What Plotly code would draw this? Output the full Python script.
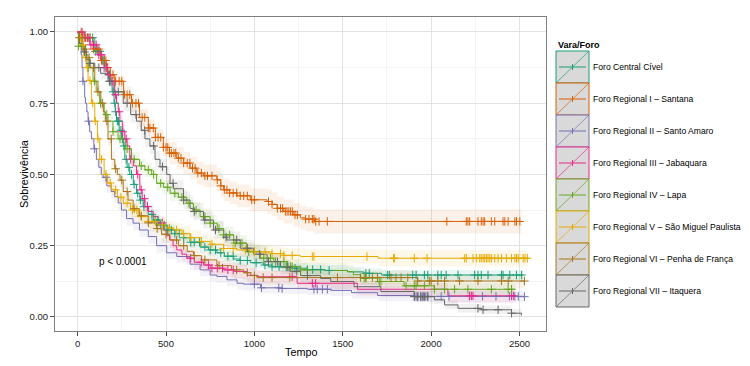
import numpy as np
import plotly.graph_objects as go

GROUPS = ["Foro Central Cível", "Foro Regional I – Santana", "Foro Regional II – Santo Amaro",
          "Foro Regional III – Jabaquara", "Foro Regional IV – Lapa",
          "Foro Regional V – São Miguel Paulista", "Foro Regional VI – Penha de França",
          "Foro Regional VII – Itaquera"]
COLORS = ["#1B9E77", "#D95F02", "#7570B3", "#E7298A", "#66A61E", "#E6AB02", "#A6761D", "#666666"]

# ---- survival step points (time, survival) ----
T_CENTRAL = [0, 40, 97, 130, 153, 170, 182, 195, 206, 213, 220, 235, 248, 258, 267, 280, 295, 315, 333, 352, 371, 400, 428, 465, 504, 550, 599, 636, 693, 740, 788, 830, 883, 920, 977, 1053, 1100, 1205, 1300, 1400, 1527, 1620, 1720, 2520]
S_CENTRAL = [1.0, 0.98, 0.932, 0.90, 0.875, 0.85, 0.827, 0.79, 0.75, 0.72, 0.687, 0.655, 0.625, 0.60, 0.553, 0.525, 0.50, 0.465, 0.434, 0.41, 0.387, 0.36, 0.34, 0.322, 0.305, 0.292, 0.278, 0.262, 0.245, 0.235, 0.225, 0.213, 0.203, 0.198, 0.19, 0.182, 0.176, 0.171, 0.166, 0.163, 0.158, 0.153, 0.147, 0.147]

T_SANTANA = [0, 30, 87, 130, 163, 185, 210, 260, 305, 350, 400, 440, 485, 520, 561, 600, 636, 674, 712, 788, 810, 826, 860, 902, 977, 1072, 1100, 1129, 1166, 1223, 1260, 1290, 1340, 2511]
S_SANTANA = [1.0, 0.98, 0.94, 0.90, 0.875, 0.85, 0.827, 0.78, 0.75, 0.70, 0.663, 0.63, 0.595, 0.575, 0.557, 0.54, 0.522, 0.505, 0.495, 0.481, 0.46, 0.446, 0.435, 0.425, 0.411, 0.405, 0.395, 0.381, 0.37, 0.358, 0.348, 0.343, 0.335, 0.335]

T_AMARO = [0, 10, 20, 25, 30, 40, 44, 52, 59, 68, 78, 92, 106, 120, 134, 144, 165, 190, 210, 230, 248, 277, 314, 350, 400, 447, 504, 561, 636, 693, 750, 788, 845, 902, 939, 1034, 1148, 1300, 1432, 1550, 1697, 1905, 2528]
S_AMARO = [1.0, 0.96, 0.92, 0.875, 0.827, 0.77, 0.75, 0.72, 0.687, 0.65, 0.625, 0.59, 0.553, 0.525, 0.50, 0.49, 0.46, 0.44, 0.422, 0.40, 0.375, 0.345, 0.329, 0.305, 0.282, 0.25, 0.225, 0.212, 0.185, 0.165, 0.147, 0.142, 0.13, 0.118, 0.115, 0.102, 0.10, 0.097, 0.093, 0.085, 0.075, 0.072, 0.071]

T_JABAQ = [0, 30, 68, 110, 150, 170, 188, 205, 220, 230, 239, 255, 267, 280, 295, 315, 333, 352, 365, 381, 400, 428, 455, 485, 505, 523, 540, 561, 590, 617, 660, 712, 750, 826, 883, 960, 1015, 1242, 1583, 2095, 2473]
S_JABAQ = [1.0, 0.98, 0.955, 0.92, 0.875, 0.85, 0.827, 0.78, 0.75, 0.72, 0.687, 0.65, 0.625, 0.60, 0.553, 0.53, 0.50, 0.446, 0.415, 0.387, 0.37, 0.352, 0.33, 0.305, 0.285, 0.27, 0.25, 0.235, 0.22, 0.206, 0.192, 0.182, 0.171, 0.165, 0.159, 0.146, 0.141, 0.118, 0.097, 0.074, 0.074]

T_LAPA = [0, 5, 40, 59, 87, 105, 125, 150, 172, 200, 229, 270, 305, 350, 381, 419, 447, 485, 523, 570, 617, 655, 693, 750, 790, 826, 883, 958, 1034, 1110, 1186, 1261, 1400, 1527, 1560, 1602, 1697, 1847, 2017, 2474]
S_LAPA = [1.0, 0.95, 0.92, 0.875, 0.827, 0.79, 0.75, 0.71, 0.687, 0.65, 0.625, 0.59, 0.553, 0.53, 0.516, 0.50, 0.469, 0.455, 0.434, 0.42, 0.399, 0.375, 0.352, 0.329, 0.31, 0.288, 0.259, 0.229, 0.206, 0.194, 0.177, 0.165, 0.163, 0.159, 0.148, 0.136, 0.124, 0.109, 0.097, 0.095]

T_SMP = [0, 10, 21, 35, 49, 59, 78, 97, 112, 125, 150, 170, 191, 225, 258, 300, 343, 400, 447, 500, 542, 590, 636, 700, 750, 826, 900, 996, 1100, 1167, 1260, 1700, 2545]
S_SMP = [1.0, 0.98, 0.955, 0.91, 0.875, 0.83, 0.75, 0.687, 0.625, 0.553, 0.50, 0.47, 0.446, 0.42, 0.399, 0.375, 0.352, 0.335, 0.323, 0.312, 0.305, 0.292, 0.278, 0.265, 0.255, 0.24, 0.235, 0.228, 0.222, 0.216, 0.212, 0.206, 0.206]

T_PENHA = [0, 10, 30, 50, 68, 97, 115, 131, 145, 157, 172, 191, 210, 225, 240, 258, 285, 314, 350, 400, 447, 475, 520, 570, 620, 655, 700, 788, 870, 939, 980, 1015, 1924, 2528]
S_PENHA = [1.0, 0.98, 0.94, 0.91, 0.875, 0.827, 0.79, 0.75, 0.72, 0.687, 0.625, 0.553, 0.52, 0.50, 0.48, 0.44, 0.41, 0.38, 0.355, 0.33, 0.31, 0.29, 0.27, 0.25, 0.23, 0.215, 0.20, 0.18, 0.165, 0.155, 0.145, 0.138, 0.126, 0.126]

T_ITAQ = [0, 10, 30, 49, 70, 97, 130, 172, 210, 258, 300, 333, 360, 381, 409, 438, 466, 504, 523, 542, 599, 636, 655, 712, 769, 826, 845, 920, 996, 1072, 1148, 1200, 1261, 1375, 1432, 1564, 1716, 1905, 2019, 2076, 2152, 2284, 2455, 2511]
S_ITAQ = [1.0, 0.96, 0.93, 0.903, 0.89, 0.875, 0.855, 0.827, 0.79, 0.75, 0.71, 0.687, 0.655, 0.625, 0.60, 0.553, 0.527, 0.50, 0.469, 0.45, 0.41, 0.381, 0.37, 0.34, 0.305, 0.28, 0.27, 0.241, 0.22, 0.194, 0.175, 0.16, 0.145, 0.135, 0.124, 0.106, 0.089, 0.071, 0.06, 0.042, 0.03, 0.025, 0.013, 0.005]

# ---- censoring times ----
C_CENTRAL = [55, 70, 85, 100, 115, 125, 140, 150, 160, 175, 185, 200, 210, 215, 225, 232, 245, 255, 262, 275, 290, 305, 320, 340, 355, 375, 395, 420, 440, 455, 470, 490, 510, 530, 550, 575, 600, 640, 660, 690, 720, 750, 780, 810, 850, 880, 920, 960, 1010, 1060, 1100, 1140, 1180, 1230, 1300, 1330, 1375, 1423, 1631, 1650, 1754, 1764, 1896, 1915, 1962, 1981, 2038, 2057, 2085, 2152, 2246, 2265, 2284, 2322, 2398, 2407, 2445, 2483, 2512]
C_SANTANA = [20, 40, 55, 70, 90, 105, 120, 135, 150, 160, 170, 185, 200, 215, 235, 250, 265, 280, 295, 310, 330, 345, 365, 380, 400, 409, 428, 440, 455, 470, 485, 500, 510, 520, 530, 545, 555, 570, 585, 600, 620, 635, 650, 665, 680, 700, 720, 735, 760, 790, 810, 830, 845, 860, 880, 900, 920, 940, 960, 985, 1000, 1080, 1100, 1130, 1148, 1160, 1175, 1185, 1195, 1205, 1215, 1230, 1243, 1290, 1309, 1328, 1337, 1347, 1366, 1413, 2089, 2199, 2208, 2218, 2265, 2284, 2294, 2303, 2341, 2360, 2407, 2417, 2436, 2474, 2483, 2502]
C_AMARO = [30, 62, 95, 160, 1000, 1040, 1138, 1157, 1337, 1356, 1385, 1413, 1905, 1915, 1925, 1940, 1955, 1970, 1981, 2057, 2101, 2216, 2291, 2367, 2443, 2474, 2493, 2528]
C_JABAQ = [25, 45, 60, 75, 90, 105, 120, 135, 150, 165, 180, 195, 215, 235, 255, 275, 300, 340, 360, 378, 395, 480, 640, 700, 740, 760, 790, 820, 850, 880, 1214, 1328, 1347, 2218, 2228, 2237, 2455, 2465]
C_LAPA = [5, 25, 60, 95, 130, 165, 200, 240, 280, 320, 360, 400, 430, 470, 510, 550, 590, 630, 670, 720, 750, 800, 826, 860, 892, 930, 968, 1000, 1053, 1091, 1119, 1167, 1186, 1205, 1214, 1262, 1300, 1621, 1631, 1707, 1716, 1858, 1905, 1915, 1962, 2019, 2076, 2133, 2208, 2341, 2436, 2455]
C_SMP = [15, 30, 45, 55, 70, 85, 100, 115, 135, 160, 185, 215, 245, 280, 310, 335, 360, 400, 440, 480, 520, 560, 600, 640, 700, 760, 826, 880, 950, 1000, 1060, 1100, 1148, 1167, 1214, 1328, 1337, 1637, 1788, 1792, 1905, 1977, 2190, 2199, 2237, 2256, 2275, 2284, 2294, 2303, 2313, 2322, 2332, 2341, 2360, 2379, 2398, 2426, 2455, 2474, 2483, 2493, 2521, 2531, 2545]
C_PENHA = [10, 25, 45, 65, 90, 115, 140, 165, 190, 215, 250, 280, 320, 360, 400, 450, 500, 560, 600, 660, 720, 800, 900, 960, 1000, 1050, 1100, 1200, 1470, 1600, 1630, 1668, 1697, 1773, 1801, 1830, 1868, 1924, 1990, 2000, 2038, 2076, 2161, 2265, 2398, 2436, 2528]
C_ITAQ = [40, 70, 120, 180, 230, 280, 330, 380, 430, 480, 540, 600, 660, 720, 780, 840, 900, 960, 1030, 1080, 1130, 1190, 1240, 1300, 1905, 1924, 1943, 1953, 1962, 1981, 2265, 2294, 2379, 2455]

# ---- confidence band half-widths at coarse times ----
BAND_T = [0, 100, 250, 500, 1000, 1500, 2000]
HW_CENTRAL = [0.005, 0.015, 0.02, 0.02, 0.018, 0.018, 0.02]
HW_SANTANA = [0.005, 0.02, 0.03, 0.04, 0.042, 0.042, 0.045]
HW_AMARO = [0.01, 0.025, 0.025, 0.022, 0.02, 0.02, 0.02]
HW_JABAQ = [0.005, 0.02, 0.025, 0.025, 0.022, 0.022, 0.025]
HW_LAPA = [0.01, 0.02, 0.025, 0.028, 0.025, 0.022, 0.022]
HW_SMP = [0.01, 0.02, 0.025, 0.025, 0.025, 0.028, 0.03]
HW_PENHA = [0.01, 0.025, 0.03, 0.028, 0.025, 0.025, 0.028]
HW_ITAQ = [0.01, 0.02, 0.028, 0.03, 0.025, 0.02, 0.015]

SERIES = [
    (T_CENTRAL, S_CENTRAL, C_CENTRAL, HW_CENTRAL),
    (T_SANTANA, S_SANTANA, C_SANTANA, HW_SANTANA),
    (T_AMARO, S_AMARO, C_AMARO, HW_AMARO),
    (T_JABAQ, S_JABAQ, C_JABAQ, HW_JABAQ),
    (T_LAPA, S_LAPA, C_LAPA, HW_LAPA),
    (T_SMP, S_SMP, C_SMP, HW_SMP),
    (T_PENHA, S_PENHA, C_PENHA, HW_PENHA),
    (T_ITAQ, S_ITAQ, C_ITAQ, HW_ITAQ),
]
P_TEXT = "p < 0.0001"
P_POS = (112, 0.196)


def rgba(hexc, a):
    h = hexc.lstrip('#')
    return f"rgba({int(h[0:2],16)},{int(h[2:4],16)},{int(h[4:6],16)},{a})"


fig = go.Figure()

# bands
for (t, s, c, hw), col in zip(SERIES, COLORS):
    t = np.array(t, float); s = np.array(s, float)
    idx = np.searchsorted(BAND_T, t, side='right') - 1
    h = np.array(hw)[idx]
    up = np.minimum(s + h, 1.0)
    lo = np.maximum(s - h, 0.0)
    fig.add_trace(go.Scatter(x=t, y=up, mode='lines', line=dict(width=0, shape='hv'),
                             hoverinfo='skip', showlegend=False))
    fig.add_trace(go.Scatter(x=t, y=lo, mode='lines', line=dict(width=0, shape='hv'),
                             fill='tonexty', fillcolor=rgba(col, 0.09),
                             hoverinfo='skip', showlegend=False))

# step lines
for (t, s, c, hw), col, name in zip(SERIES, COLORS, GROUPS):
    fig.add_trace(go.Scatter(x=t, y=s, mode='lines', line=dict(color=col, width=1, shape='hv'),
                             name=name, showlegend=False))

# censor marks
for (t, s, c, hw), col in zip(SERIES, COLORS):
    t = np.array(t, float); s = np.array(s, float)
    ci = np.array(c, float)
    k = np.searchsorted(t, ci, side='right') - 1
    fig.add_trace(go.Scatter(x=ci, y=s[k], mode='markers',
                             marker=dict(symbol='cross-thin', size=6, color=col,
                                         line=dict(width=1, color=col)),
                             hoverinfo='skip', showlegend=False))

fig.add_annotation(x=P_POS[0], y=P_POS[1], text=P_TEXT, showarrow=False, xanchor='left',
                   yanchor='middle', font=dict(size=10, color='#000000'))

# ---- manual legend (pixel layout -> paper coords) ----
L, R, TOP, BOT = 55, 546, 17, 331
def px(x):
    return (x - L) / (R - L)
def py(y):
    return (BOT - y) / (BOT - TOP)

fig.add_annotation(x=px(556), y=py(44.5), xref='paper', yref='paper', text="<b>Vara/Foro</b>",
                   showarrow=False, xanchor='left', yanchor='middle',
                   font=dict(size=9, color='#000000'))
for i, (name, col) in enumerate(zip(GROUPS, COLORS)):
    top = 51 + 32 * i
    fig.add_shape(type='rect', xref='paper', yref='paper', x0=px(556), x1=px(589),
                  y0=py(top + 32), y1=py(top), fillcolor='#d9d9d9',
                  line=dict(color=col, width=1), layer='above')
    fig.add_shape(type='line', xref='paper', yref='paper', x0=px(556.5), y0=py(top + 31.5),
                  x1=px(588.5), y1=py(top + 0.5), line=dict(color=col, width=0.7), layer='above')
    fig.add_shape(type='line', xref='paper', yref='paper', x0=px(559), y0=py(top + 16),
                  x1=px(586), y1=py(top + 16), line=dict(color=col, width=1), layer='above')
    fig.add_shape(type='line', xref='paper', yref='paper', x0=px(572.5), y0=py(top + 13),
                  x1=px(572.5), y1=py(top + 19), line=dict(color=col, width=1), layer='above')
    fig.add_annotation(x=px(591), y=py(top + 16), xref='paper', yref='paper', text=name,
                       showarrow=False, xanchor='left', yanchor='middle',
                       font=dict(size=8.6, color='#000000'))

# axis titles
fig.add_annotation(x=px(24), y=0.5, xref='paper', yref='paper', text="Sobrevivência",
                   textangle=-90, showarrow=False, xanchor='center', yanchor='middle',
                   font=dict(size=10.8, color='#000000'))
fig.add_annotation(x=0.5, y=py(352), xref='paper', yref='paper', text="Tempo",
                   showarrow=False, xanchor='center', yanchor='middle',
                   font=dict(size=10.8, color='#000000'))

axis_common = dict(showline=True, linecolor='#7f7f7f', linewidth=1, mirror=True,
                   ticks='outside', ticklen=4, tickcolor='#4d4d4d', tickwidth=1,
                   gridcolor='#e3e3e3', gridwidth=1, zeroline=False, automargin=False,
                   tickfont=dict(size=9.5, color='#1a1a1a'))

fig.update_layout(
    width=750, height=366,
    margin=dict(l=L, r=750 - R, t=TOP, b=366 - BOT, pad=0, autoexpand=False),
    paper_bgcolor='white', plot_bgcolor='white',
    font=dict(family='Liberation Sans, Arial, sans-serif', color='#000000'),
    showlegend=False,
    xaxis=dict(range=[-128, 2650], tickvals=[0, 500, 1000, 1500, 2000, 2500],
               minor=dict(tickvals=[250, 750, 1250, 1750, 2250], showgrid=True,
                          gridcolor='#f3f3f3', gridwidth=1, ticks=''),
               **axis_common),
    yaxis=dict(range=[-0.0495, 1.0526], tickvals=[0, 0.25, 0.5, 0.75, 1.0],
               ticktext=['0.00', '0.25', '0.50', '0.75', '1.00'],
               minor=dict(tickvals=[0.125, 0.375, 0.625, 0.875], showgrid=True,
                          gridcolor='#f3f3f3', gridwidth=1, ticks=''),
               **axis_common),
)

fig.write_html("out.html", config={'displayModeBar': False},
               post_script="document.body.style.margin='0';document.body.style.overflow='hidden';")
